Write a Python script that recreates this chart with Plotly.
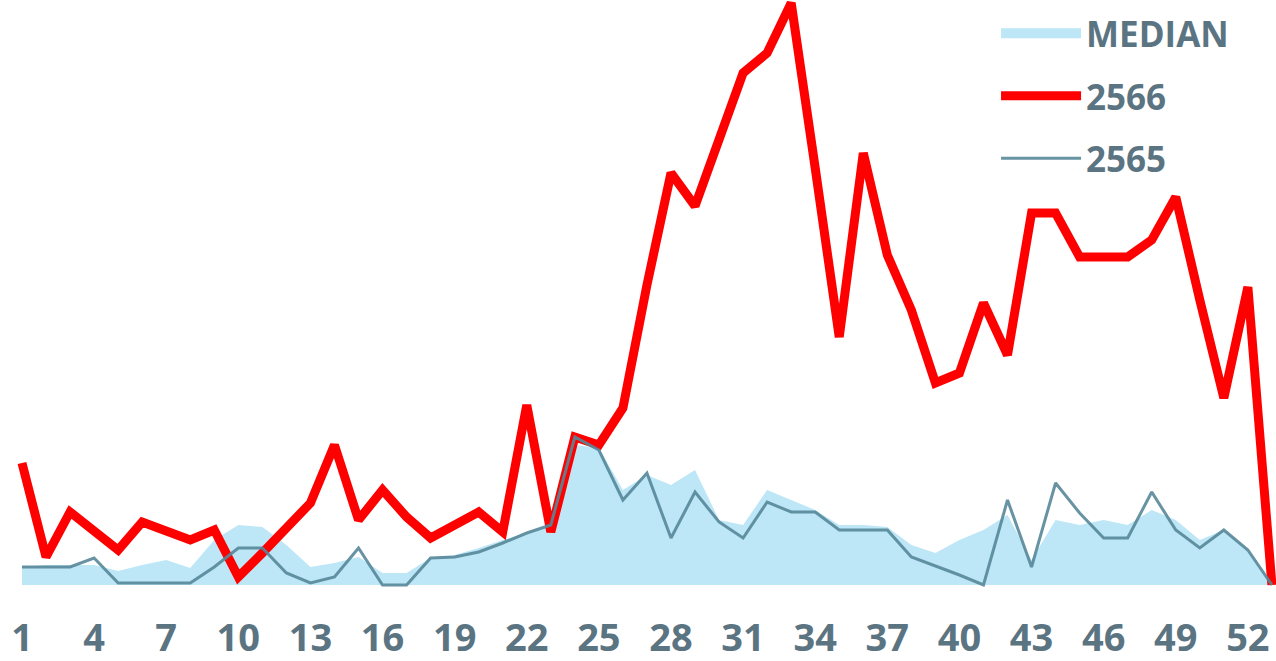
import plotly.graph_objects as go

weeks = list(range(1, 54))
tick_vals = list(range(1, 53, 3))
tick_text = [str(v) for v in tick_vals]

series_2566 = [122, 28, 73, 55, 35, 63, 53, 45, 55, 8,
               32, 58, 82, 140, 65, 95, 68, 47, 60, 73,
               53, 180, 53, 148, 140, 177, 300, 412, 379, 445,
               512, 532, 582, 417, 248, 432, 330, 275, 202, 212,
               282, 230, 372, 372, 328, 328, 328, 345, 388, 285,
               187, 298, 0]

series_2565 = [18, 18, 18, 27, 2, 2, 2, 2, 18, 37,
               37, 12, 2, 8, 37, 0, 0, 27, 28, 33,
               42, 52, 60, 148, 135, 85, 112, 47, 93, 63,
               47, 83, 73, 73, 55, 55, 55, 28, 19, 10,
               0, 85, 18, 102, 72, 47, 47, 93, 55, 37,
               55, 35, 0]

series_median = [18, 20, 20, 20, 14, 20, 25, 17, 45, 60,
                 58, 40, 18, 22, 28, 12, 12, 27, 30, 37,
                 45, 52, 60, 140, 137, 95, 110, 100, 115, 65,
                 60, 95, 85, 75, 60, 60, 58, 40, 32, 45,
                 55, 70, 25, 65, 60, 65, 60, 75, 65, 45,
                 55, 35, 0]

font_family = "Open Sans, Noto Sans, sans-serif"
text_color = "#5b7482"
median_color = "#bde6f7"

fig = go.Figure()
fig.add_trace(go.Scatter(
    x=weeks, y=series_median, name="MEDIAN", mode="lines",
    line=dict(width=0, color=median_color), fill="tozeroy",
    fillcolor=median_color, legendgroup="a", showlegend=False,
    hoverinfo="skip"))
# legend swatch for the median area
fig.add_trace(go.Scatter(
    x=[None], y=[None], name="MEDIAN", mode="lines",
    line=dict(width=22, color=median_color), legendgroup="a"))
fig.add_trace(go.Scatter(
    x=weeks, y=series_2566, name="2566", mode="lines",
    line=dict(width=9, color="#ff0000"), legendgroup="b"))
fig.add_trace(go.Scatter(
    x=weeks, y=series_2565, name="2565", mode="lines",
    line=dict(width=3, color="#578899"), opacity=0.9, legendgroup="c"))

fig.update_layout(
    width=1276, height=661,
    margin=dict(l=0, r=0, t=0, b=73, autoexpand=False),
    paper_bgcolor="white", plot_bgcolor="white",
    font=dict(family=font_family, color=text_color),
    showlegend=True,
    legend=dict(x=0.7806, y=0.993, xanchor="left", yanchor="top",
                font=dict(size=35, color=text_color, family=font_family, weight="bold"),
                itemwidth=80, tracegroupgap=14, bgcolor="rgba(0,0,0,0)",
                traceorder="grouped"),
    xaxis=dict(range=[0.085, 53.17], tickmode="array", tickvals=tick_vals,
               ticktext=tick_text, showgrid=False, zeroline=False,
               showline=False, ticks="", ticklabelstandoff=24, automargin=False,
               tickfont=dict(size=38, color=text_color, family=font_family, weight="bold")),
    yaxis=dict(range=[-3, 585], showgrid=False, zeroline=False, automargin=False,
               showline=False, showticklabels=False, ticks=""),
)

fig.write_html("out.html", config={"displayModeBar": False},
               post_script="document.body.style.margin='0';")
